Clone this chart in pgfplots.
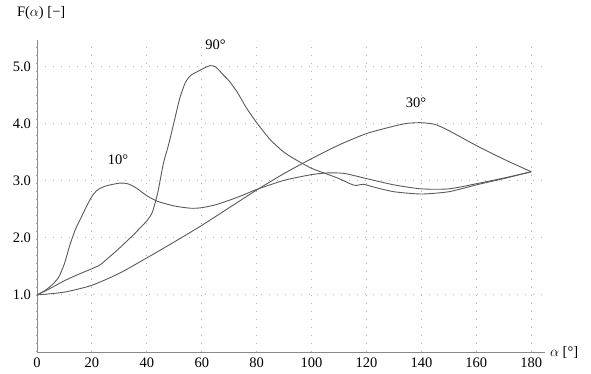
\documentclass[border=0pt]{standalone}
\usepackage{pgfplots}
\pgfplotsset{compat=1.18}
\usepackage{fontspec}
\setmainfont{Liberation Serif}
\definecolor{curve}{HTML}{5A5A5A}
\definecolor{axisc}{HTML}{8A8A8A}
\definecolor{gridc}{HTML}{B4B4B4}
\begin{document}
\fontsize{14.5}{16}\selectfont
\begin{tikzpicture}
\useasboundingbox (-37pt,-21pt) rectangle (554pt,352pt);
\begin{axis}[
  at={(0,0)}, anchor=south west,
  scale only axis, width=508pt, height=312pt,
  xmin=0, xmax=185, ymin=0, ymax=5.47,
  axis x line=bottom, axis y line=left,
  axis line style={axisc, line width=0.8pt, -},
  xtick={0,20,...,180}, ytick={1,2,3,4,5},
  major tick length=0pt,
  grid=major,
  major grid style={gridc, line width=1pt, dash pattern=on 1pt off 7pt},
  /pgf/number format/assume math mode=true,
  yticklabel={\pgfmathprintnumber[fixed,fixed zerofill,precision=1]{\tick}},
  xticklabel style={yshift=-1pt},
  yticklabel style={xshift=-1pt},
  tick label style={font=\fontsize{14.5}{16}\selectfont},
  clip=false,
]
\addplot[curve, line width=0.9pt, smooth, tension=0.4] coordinates {
(0,1.0)(3,1.08)(6,1.2)(8,1.32)(10,1.55)(12,1.88)(14,2.15)(16,2.35)(18,2.55)(20,2.73)(22,2.84)(25,2.91)(30,2.96)(33,2.95)(36,2.88)(40,2.74)(44,2.64)(50,2.56)(56,2.52)(60,2.53)(65,2.58)(70,2.66)(75,2.75)(80,2.85)(90,3.01)(100,3.11)(106,3.14)(112,3.13)(120,3.04)(130,2.93)(140,2.86)(150,2.86)(160,2.95)(170,3.05)(180,3.16)
};
\addplot[curve, line width=0.9pt, smooth, tension=0.4] coordinates {
(0,1.0)(5,1.12)(10,1.25)(15,1.36)(20,1.46)(23,1.53)(26,1.65)(30,1.82)(35,2.05)(40,2.3)(42,2.45)(44,2.8)(46,3.3)(48,3.65)(50,4.05)(52,4.45)(54,4.72)(56,4.85)(59,4.93)(61,4.98)(63,5.02)(65,5.0)(68,4.85)(70,4.75)(73,4.55)(76,4.3)(80,4.02)(85,3.72)(90,3.5)(95,3.35)(100,3.22)(105,3.13)(110,3.04)(114,2.95)(116,2.92)(119,2.94)(122,2.9)(130,2.81)(140,2.77)(150,2.81)(160,2.93)(170,3.04)(180,3.16)
};
\addplot[curve, line width=0.9pt, smooth, tension=0.4] coordinates {
(0,1.0)(10,1.05)(20,1.17)(30,1.38)(40,1.65)(50,1.93)(60,2.22)(70,2.53)(80,2.84)(90,3.13)(100,3.39)(110,3.63)(120,3.83)(130,3.96)(135,4.01)(140,4.02)(145,3.99)(150,3.88)(160,3.62)(170,3.38)(180,3.16)
};
\node at (axis cs:29.5,3.37) {10°};
\node at (axis cs:65,5.39) {90°};
\node at (axis cs:138,4.37) {30°};
\node[anchor=west] at (axis cs:185,0) {$\alpha$ [°]};
\node[anchor=west] at ([xshift=-25pt,yshift=27pt]rel axis cs:0,1) {F($\alpha$) [−]};
\end{axis}
\end{tikzpicture}
\end{document}
